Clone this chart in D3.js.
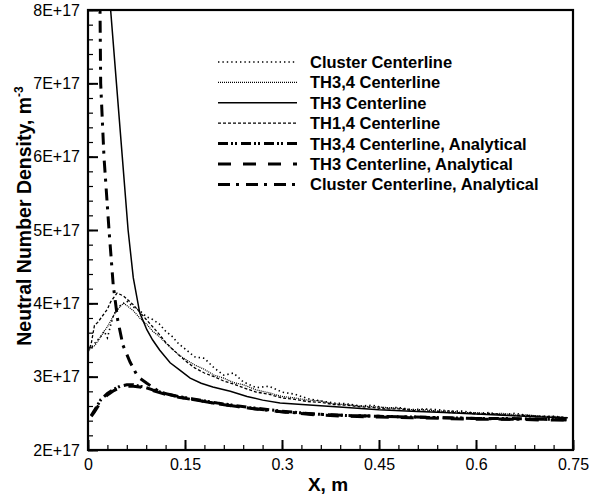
<!DOCTYPE html>
<html lang="en">
<head>
  <meta charset="UTF-8">
  <title>Neutral Number Density along centerlines</title>
  <style>
    body { margin: 0; background: #fff; }
    text { font-family: "Liberation Sans", Arial, sans-serif; }
  </style>
</head>
<body>
  <svg id="chart" width="589" height="495"></svg>

  <script src="https://d3js.org/d3.v7.min.js"></script>
  <script>
    // y values are in units of 1E+17 m^-3, x in m
    const xTicks = [0, 0.15, 0.3, 0.45, 0.6, 0.75];
    const yTicks = [2, 3, 4, 5, 6, 7, 8];

    const xData = [0, 0.005, 0.01, 0.015, 0.02, 0.025, 0.03, 0.035, 0.04, 0.045, 0.05, 0.055, 0.06,
      0.07, 0.08, 0.09, 0.1, 0.11, 0.12, 0.13, 0.14, 0.15, 0.165, 0.18, 0.195, 0.21, 0.225, 0.24,
      0.26, 0.28, 0.3, 0.32, 0.34, 0.36, 0.38, 0.4, 0.42, 0.44, 0.46, 0.48, 0.5, 0.52, 0.54, 0.56,
      0.58, 0.6, 0.62, 0.64, 0.66, 0.68, 0.7, 0.72, 0.74];

    const clusterCenter = [3.38, 3.40, 3.45, 3.50, 3.55, 3.62, 3.53, 3.70, 3.85, 3.92, 3.97, 4.00, 4.03,
      3.95, 3.90, 3.82, 3.78, 3.72, 3.62, 3.55, 3.45, 3.38, 3.27, 3.25, 3.12, 3.02, 3.05, 2.93,
      2.85, 2.87, 2.79, 2.76, 2.70, 2.67, 2.64, 2.63, 2.60, 2.61, 2.57, 2.58, 2.55, 2.56, 2.55, 2.53,
      2.53, 2.50, 2.51, 2.48, 2.50, 2.47, 2.46, 2.46, 2.44];

    const th34Center = [3.35, 3.40, 3.42, 3.48, 3.55, 3.62, 3.68, 3.76, 3.84, 3.90, 3.96, 4.00, 3.97,
      3.90, 3.80, 3.72, 3.62, 3.55, 3.46, 3.38, 3.30, 3.24, 3.16, 3.10, 3.02, 2.98, 2.92, 2.89,
      2.82, 2.78, 2.73, 2.71, 2.68, 2.67, 2.63, 2.62, 2.60, 2.59, 2.58, 2.57, 2.55, 2.55, 2.53, 2.53,
      2.51, 2.51, 2.49, 2.50, 2.48, 2.48, 2.46, 2.46, 2.44];

    const th14Center = [3.33, 3.45, 3.70, 3.74, 3.80, 3.86, 3.92, 4.02, 4.08, 4.14, 4.12, 4.10, 4.06,
      3.98, 3.88, 3.78, 3.68, 3.58, 3.47, 3.38, 3.30, 3.22, 3.12, 3.05, 3.00, 2.94, 2.90, 2.85,
      2.79, 2.76, 2.71, 2.69, 2.66, 2.65, 2.62, 2.61, 2.59, 2.58, 2.56, 2.56, 2.54, 2.53, 2.53, 2.51,
      2.51, 2.49, 2.50, 2.48, 2.47, 2.47, 2.46, 2.45, 2.44];

    const th3X = [0.03, 0.035, 0.044, 0.053, 0.062, 0.07, 0.08, 0.091, 0.1, 0.111, 0.127, 0.142, 0.158,
      0.175, 0.193, 0.22, 0.246, 0.27, 0.297, 0.348, 0.4, 0.45, 0.5, 0.55, 0.6, 0.65, 0.7, 0.742];
    const th3Center = [8.7, 8.0, 7.0, 6.0, 5.0, 4.35, 3.87, 3.64, 3.50, 3.36, 3.19, 3.09, 2.98,
      2.91, 2.86, 2.80, 2.73, 2.68, 2.64, 2.61, 2.58, 2.55, 2.53, 2.51, 2.49, 2.47, 2.45, 2.44];

    const clusterAnX = [0.017, 0.0186, 0.0196, 0.0247, 0.0325, 0.039, 0.046, 0.054, 0.065, 0.077, 0.091,
      0.111, 0.142, 0.2, 0.25, 0.3, 0.35, 0.4, 0.45, 0.5, 0.55, 0.6, 0.65, 0.7, 0.74];
    const clusterAnalytical = [9.0, 8.0, 7.0, 6.0, 5.0, 4.25, 3.77, 3.43, 3.20, 3.00, 2.91,
      2.79, 2.72, 2.63, 2.57, 2.52, 2.49, 2.47, 2.46, 2.45, 2.44, 2.43, 2.42, 2.42, 2.41];

    const anX = [0.005, 0.01, 0.02, 0.03, 0.04, 0.05, 0.06, 0.07, 0.08, 0.09, 0.1, 0.12, 0.14, 0.16,
      0.18, 0.2, 0.25, 0.3, 0.35, 0.4, 0.45, 0.5, 0.55, 0.6, 0.65, 0.7, 0.74];
    const th34Analytical = [2.47, 2.54, 2.69, 2.77, 2.83, 2.87, 2.89, 2.89, 2.87, 2.85, 2.82, 2.77, 2.73, 2.70,
      2.67, 2.64, 2.58, 2.53, 2.49, 2.47, 2.46, 2.45, 2.44, 2.43, 2.43, 2.42, 2.42];
    const th3Analytical = [2.46, 2.52, 2.66, 2.75, 2.81, 2.85, 2.87, 2.87, 2.86, 2.84, 2.81, 2.76, 2.72, 2.69,
      2.66, 2.63, 2.57, 2.52, 2.48, 2.46, 2.45, 2.44, 2.43, 2.42, 2.42, 2.41, 2.41];

    const series = [
      { name: "Cluster Centerline", x: xData, y: clusterCenter, width: 1.6, dash: "1.4,3" },
      { name: "TH3,4 Centerline", x: xData, y: th34Center, width: 1.2, dash: "1,1" },
      { name: "TH3 Centerline", x: th3X, y: th3Center, width: 1.5, dash: null },
      { name: "TH1,4 Centerline", x: xData, y: th14Center, width: 1.3, dash: "3,2" },
      { name: "TH3,4 Centerline, Analytical", x: anX, y: th34Analytical, width: 3, dash: "10,3,2,2,2,4" },
      { name: "TH3 Centerline, Analytical", x: anX, y: th3Analytical, width: 3, dash: "13,12" },
      { name: "Cluster Centerline, Analytical", x: clusterAnX, y: clusterAnalytical, width: 3, dash: "12,6,3,7" }
    ];

    const pLeft = 88, pRight = 573, pTop = 10, pBottom = 450;

    const svg = d3.select("#chart");
    svg.append("rect").attr("width", 589).attr("height", 495).attr("fill", "#fff");

    const x = d3.scaleLinear().domain([0, 0.75]).range([pLeft, pRight]);
    const y = d3.scaleLinear().domain([2, 8]).range([pBottom, pTop]);

    svg.append("clipPath").attr("id", "plot-clip")
      .append("rect")
      .attr("x", pLeft).attr("y", pTop)
      .attr("width", pRight - pLeft).attr("height", pBottom - pTop);

    // minor ticks
    svg.append("g")
      .attr("transform", `translate(0,${pBottom})`)
      .call(d3.axisBottom(x).tickValues(d3.range(0, 0.7501, 0.03)).tickSize(-5).tickFormat(""))
      .call(g => g.select(".domain").remove())
      .selectAll("line").attr("stroke-width", 1.2);

    svg.append("g")
      .attr("transform", `translate(${pLeft},0)`)
      .call(d3.axisLeft(y).tickValues(d3.range(2, 8.001, 0.2)).tickSize(-5).tickFormat(""))
      .call(g => g.select(".domain").remove())
      .selectAll("line").attr("stroke-width", 1.2);

    // major ticks + labels
    const xAxis = svg.append("g")
      .attr("transform", `translate(0,${pBottom})`)
      .call(d3.axisBottom(x).tickValues(xTicks).tickSize(-10).tickPadding(9)
        .tickFormat(d => d === 0 ? "0" : String(+d.toFixed(2))));
    xAxis.select(".domain").remove();
    xAxis.selectAll("line").attr("stroke-width", 2);
    xAxis.selectAll("text").attr("font-size", 16).attr("font-family", "Liberation Sans, Arial, sans-serif").attr("fill", "#000");

    const yAxis = svg.append("g")
      .attr("transform", `translate(${pLeft},0)`)
      .call(d3.axisLeft(y).tickValues(yTicks).tickSize(-10).tickPadding(8)
        .tickFormat(d => d + "E+17"));
    yAxis.select(".domain").remove();
    yAxis.selectAll("line").attr("stroke-width", 2);
    yAxis.selectAll("text").attr("font-size", 16).attr("font-family", "Liberation Sans, Arial, sans-serif").attr("fill", "#000");

    // curves
    const line = d3.line().x(d => x(d[0])).y(d => y(d[1]));
    const plot = svg.append("g").attr("clip-path", "url(#plot-clip)");
    series.forEach(s => {
      plot.append("path")
        .datum(s.x.map((v, i) => [v, s.y[i]]))
        .attr("d", line)
        .attr("fill", "none")
        .attr("stroke", "#000")
        .attr("stroke-width", s.width)
        .attr("stroke-dasharray", s.dash);
    });

    // frame
    svg.append("rect")
      .attr("x", pLeft).attr("y", pTop)
      .attr("width", pRight - pLeft).attr("height", pBottom - pTop)
      .attr("fill", "none").attr("stroke", "#000").attr("stroke-width", 2.2);

    // legend
    const legend = svg.append("g");
    series.forEach((s, i) => {
      const ly = 62 + i * 20.4;
      legend.append("line")
        .attr("x1", 218).attr("x2", 297)
        .attr("y1", ly).attr("y2", ly)
        .attr("stroke", "#000")
        .attr("stroke-width", s.width)
        .attr("stroke-dasharray", s.dash);
      legend.append("text")
        .attr("x", 310).attr("y", ly)
        .attr("dy", "0.36em")
        .attr("font-size", 16.5)
        .attr("font-weight", "bold")
        .text(s.name);
    });

    // axis titles
    svg.append("text")
      .attr("x", 328).attr("y", 491)
      .attr("text-anchor", "middle")
      .attr("font-size", 19).attr("font-weight", "bold")
      .text("X, m");

    const yTitle = svg.append("text")
      .attr("transform", `translate(31,216) rotate(-90)`)
      .attr("text-anchor", "middle")
      .attr("font-size", 19.5).attr("font-weight", "bold");
    yTitle.append("tspan").text("Neutral Number Density, m");
    yTitle.append("tspan").attr("font-size", 12).attr("dy", -8).text("-3");
  </script>
</body>
</html>
